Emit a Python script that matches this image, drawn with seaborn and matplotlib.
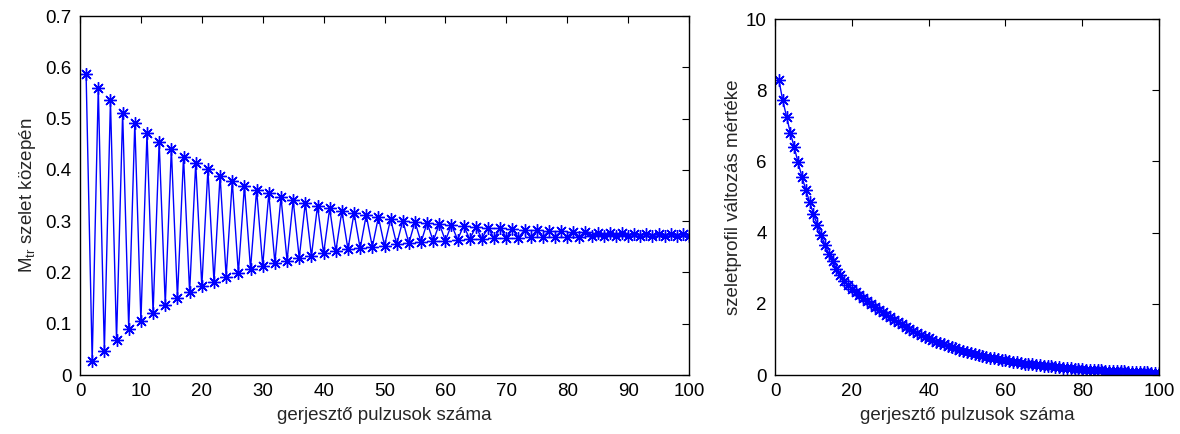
import numpy as np
import pandas as pd
import matplotlib
matplotlib.use("Agg")
import matplotlib.pyplot as plt
import seaborn as sns

# Adatok
impulzusok = list(range(1, 101))

# bal oldali grafikon: páratlan impulzusoknál a felső, párosaknál az alsó burkoló
m_felso = [0.587, 0.560, 0.536, 0.511, 0.492, 0.471, 0.455, 0.441, 0.426, 0.413,
           0.401, 0.389, 0.378, 0.369, 0.361, 0.354, 0.347, 0.341, 0.336, 0.330,
           0.325, 0.320, 0.316, 0.312, 0.308, 0.304, 0.301, 0.299, 0.297, 0.295,
           0.293, 0.291, 0.289, 0.287, 0.286, 0.284, 0.283, 0.282, 0.281, 0.280,
           0.279, 0.278, 0.277, 0.277, 0.276, 0.275, 0.275, 0.274, 0.274, 0.274]
m_also = [0.027, 0.047, 0.068, 0.090, 0.105, 0.121, 0.137, 0.150, 0.161, 0.173,
          0.182, 0.192, 0.199, 0.207, 0.213, 0.219, 0.223, 0.228, 0.232, 0.237,
          0.241, 0.245, 0.247, 0.250, 0.252, 0.255, 0.257, 0.259, 0.261, 0.262,
          0.264, 0.265, 0.266, 0.267, 0.268, 0.268, 0.269, 0.269, 0.270, 0.270,
          0.270, 0.271, 0.271, 0.271, 0.271, 0.272, 0.272, 0.272, 0.272, 0.272]

# jobb oldali grafikon: szeletprofil változás mértéke
valtozas = [8.29, 7.72, 7.26, 6.80, 6.40, 5.97, 5.57, 5.21, 4.86, 4.53,
            4.22, 3.93, 3.66, 3.41, 3.19, 2.99, 2.81, 2.65, 2.52, 2.42,
            2.33, 2.24, 2.15, 2.07, 1.99, 1.91, 1.83, 1.76, 1.69, 1.62,
            1.55, 1.48, 1.42, 1.36, 1.30, 1.24, 1.18, 1.13, 1.08, 1.03,
            0.98, 0.94, 0.90, 0.86, 0.82, 0.78, 0.75, 0.71, 0.68, 0.65,
            0.62, 0.59, 0.57, 0.54, 0.52, 0.49, 0.47, 0.45, 0.43, 0.41,
            0.39, 0.37, 0.36, 0.34, 0.32, 0.31, 0.30, 0.28, 0.27, 0.26,
            0.25, 0.24, 0.23, 0.22, 0.21, 0.20, 0.19, 0.18, 0.17, 0.16,
            0.15, 0.15, 0.14, 0.13, 0.13, 0.12, 0.12, 0.11, 0.11, 0.10,
            0.10, 0.09, 0.09, 0.09, 0.08, 0.08, 0.08, 0.07, 0.07, 0.07]

m_kozep = []
for a, b in zip(m_felso, m_also):
    m_kozep += [a, b]

df_bal = pd.DataFrame({"n": impulzusok, "m": m_kozep})
df_jobb = pd.DataFrame({"n": impulzusok, "v": valtozas})

sns.set_style("white")
plt.rcParams["font.family"] = ["Liberation Sans", "DejaVu Sans"]
plt.rcParams["mathtext.fontset"] = "custom"
plt.rcParams["mathtext.rm"] = "Liberation Sans"
plt.rcParams["font.size"] = 13.5

fig = plt.figure(figsize=(11.8, 4.34), dpi=100)
ax1 = fig.add_axes([0.0678, 0.1359, 0.5161, 0.8272])
ax2 = fig.add_axes([0.6568, 0.1359, 0.3254, 0.8203])

jel = dict(marker=(8, 2, 0), markersize=9, markeredgewidth=1.0,
           color="#0000ff", linewidth=1.0, markeredgecolor="#0000ff")

sns.lineplot(data=df_bal, x="n", y="m", ax=ax1, errorbar=None, **jel)
sns.lineplot(data=df_jobb, x="n", y="v", ax=ax2, errorbar=None, **jel)

ax1.set_xlim(0, 100)
ax1.set_ylim(0, 0.7)
ax1.set_xticks(range(0, 101, 10))
ax1.set_yticks(np.arange(0, 0.71, 0.1))
ax1.set_yticklabels(["0", "0.1", "0.2", "0.3", "0.4", "0.5", "0.6", "0.7"])
ax1.set_xlabel("gerjesztő pulzusok száma", labelpad=5)
ax1.set_ylabel(r"M$_{\rm tr}$ szelet közepén", labelpad=5)

ax2.set_xlim(0, 100)
ax2.set_ylim(0, 10)
ax2.set_xticks(range(0, 101, 20))
ax2.set_yticks(range(0, 11, 2))
ax2.set_xlabel("gerjesztő pulzusok száma", labelpad=5)
ax2.set_ylabel("szeletprofil változás mértéke", labelpad=3)

for ax in (ax1, ax2):
    for s in ax.spines.values():
        s.set_visible(True)
        s.set_color("black")
        s.set_linewidth(1.0)
    ax.tick_params(direction="in", length=5, width=0.8, top=True, right=True,
                   labelsize=13.5, pad=6, colors="black")

plt.savefig("out.png", dpi=100)
